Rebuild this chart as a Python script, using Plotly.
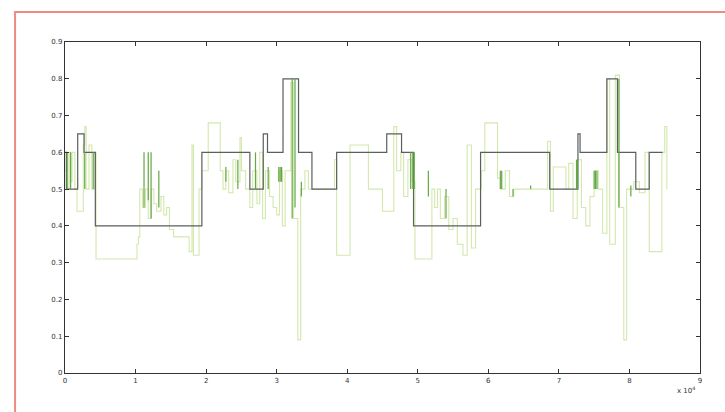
import plotly.graph_objects as go

# Black reference step signal (x in units of 1e4)
black_x = [0, 0.02, 0.18, 0.27, 0.43, 1.94, 2.62, 2.81, 2.87, 3.09, 3.31, 3.50, 3.85,
           4.56, 4.77, 4.94, 5.89, 6.87, 7.27, 7.30, 7.68, 7.83, 8.09, 8.28, 8.47]
black_y = [0.6, 0.5, 0.65, 0.6, 0.4, 0.6, 0.5, 0.65, 0.6, 0.8, 0.6, 0.5, 0.6,
           0.65, 0.6, 0.4, 0.6, 0.5, 0.65, 0.6, 0.8, 0.6, 0.5, 0.6, 0.6]

# Light green noisy step signal
green_x = [0.00, 0.02, 0.04, 0.06, 0.08, 0.10, 0.14, 0.17, 0.26, 0.28, 0.30, 0.34, 0.38, 0.42,
           0.44, 1.02, 1.04, 1.06, 1.10, 1.14, 1.18, 1.22, 1.26, 1.30, 1.36, 1.40, 1.44, 1.48,
           1.54, 1.76, 1.80, 1.82, 1.90, 1.94, 2.03, 2.20, 2.24, 2.28, 2.32, 2.38, 2.42, 2.48,
           2.50, 2.56, 2.62, 2.66, 2.72, 2.76, 2.80, 2.84, 2.90, 2.95, 3.00, 3.04, 3.08, 3.12,
           3.20, 3.24, 3.30, 3.34, 3.40, 3.45, 3.50, 3.82, 3.85, 4.04, 4.30, 4.50, 4.66, 4.70,
           4.76, 4.80, 4.86, 4.92, 4.96, 5.20, 5.24, 5.28, 5.32, 5.38, 5.44, 5.50, 5.56, 5.64,
           5.70, 5.76, 5.82, 5.90, 5.95, 6.13, 6.18, 6.24, 6.30, 6.36, 6.84, 6.88, 6.92, 7.10,
           7.14, 7.20, 7.26, 7.32, 7.38, 7.44, 7.50, 7.56, 7.62, 7.68, 7.72, 7.80, 7.86, 7.92,
           7.96, 8.06, 8.14, 8.22, 8.28, 8.46, 8.50, 8.53]
green_y = [0.55, 0.60, 0.50, 0.60, 0.52, 0.60, 0.50, 0.44, 0.62, 0.67, 0.50, 0.62, 0.50, 0.60,
           0.31, 0.35, 0.37, 0.50, 0.45, 0.50, 0.42, 0.50, 0.46, 0.44, 0.48, 0.43, 0.45, 0.39,
           0.37, 0.33, 0.62, 0.32, 0.50, 0.55, 0.68, 0.55, 0.50, 0.55, 0.49, 0.58, 0.52, 0.64,
           0.55, 0.50, 0.45, 0.55, 0.46, 0.60, 0.42, 0.55, 0.48, 0.45, 0.43, 0.55, 0.40, 0.55,
           0.79, 0.42, 0.09, 0.50, 0.55, 0.50, 0.50, 0.58, 0.32, 0.62, 0.50, 0.44, 0.67, 0.55,
           0.60, 0.48, 0.58, 0.52, 0.31, 0.50, 0.45, 0.50, 0.42, 0.48, 0.39, 0.42, 0.35, 0.32,
           0.62, 0.34, 0.50, 0.55, 0.68, 0.53, 0.50, 0.55, 0.48, 0.50, 0.63, 0.44, 0.56, 0.50,
           0.57, 0.42, 0.58, 0.45, 0.40, 0.48, 0.55, 0.50, 0.38, 0.80, 0.35, 0.81, 0.45, 0.09,
           0.50, 0.52, 0.49, 0.60, 0.33, 0.60, 0.67, 0.50]

# Dark green fast-switching bursts: position, low, high
spike_x = [0.03, 0.08, 0.28, 0.40, 1.12, 1.18, 1.22, 1.33, 2.28, 2.45, 2.70, 2.88,
           3.03, 3.05, 3.07, 3.22, 3.26, 3.35, 4.90, 4.93, 4.95, 5.15, 5.40,
           6.17, 6.19, 6.35, 6.60, 7.25, 7.26, 7.50, 7.52, 7.54, 7.85, 8.02]
spike_lo = [0.50, 0.50, 0.50, 0.50, 0.45, 0.47, 0.42, 0.45, 0.52, 0.50, 0.50, 0.50,
            0.52, 0.52, 0.52, 0.42, 0.45, 0.48, 0.50, 0.50, 0.50, 0.48, 0.42,
            0.50, 0.50, 0.48, 0.50, 0.50, 0.50, 0.50, 0.50, 0.50, 0.45, 0.48]
spike_hi = [0.60, 0.60, 0.60, 0.60, 0.60, 0.60, 0.60, 0.55, 0.56, 0.58, 0.60, 0.56,
            0.56, 0.56, 0.56, 0.80, 0.80, 0.52, 0.60, 0.60, 0.60, 0.55, 0.50,
            0.55, 0.55, 0.50, 0.51, 0.58, 0.58, 0.55, 0.55, 0.55, 0.80, 0.51]

x_ticks = list(range(0, 10))
y_ticks = [0, 0.1, 0.2, 0.3, 0.4, 0.5, 0.6, 0.7, 0.8, 0.9]

sx, sy = [], []
for x, lo, hi in zip(spike_x, spike_lo, spike_hi):
    sx += [x, x, None]
    sy += [lo, hi, None]

fig = go.Figure()
fig.add_trace(go.Scatter(x=green_x, y=green_y, mode="lines", line=dict(shape="hv", color="#d3e8ad", width=1.1),
                         hoverinfo="skip", showlegend=False))
fig.add_trace(go.Scatter(x=black_x, y=black_y, mode="lines", line=dict(shape="hv", color="#5a5f5f", width=1.2),
                         hoverinfo="skip", showlegend=False))
fig.add_trace(go.Scatter(x=sx, y=sy, mode="lines", line=dict(color="#62a844", width=1.2),
                         hoverinfo="skip", showlegend=False))

axis_common = dict(showline=True, linecolor="#333333", linewidth=1.2, mirror="ticks",
                   ticks="inside", ticklen=4, tickcolor="#333333", showgrid=False, zeroline=False,
                   tickfont=dict(family="DejaVu Sans", size=7, color="#333333"))
fig.update_xaxes(range=[0, 9], tickvals=x_ticks, ticktext=[str(v) for v in x_ticks], **axis_common)
fig.update_yaxes(range=[0, 0.9], tickvals=y_ticks, ticktext=[str(v) for v in y_ticks], **axis_common)

fig.update_layout(
    width=725, height=412,
    margin=dict(l=65, r=25, t=42, b=39),
    plot_bgcolor="white", paper_bgcolor="white",
    shapes=[dict(type="rect", xref="paper", yref="paper",
                 x0=-0.0786, x1=1.2, y0=-0.3, y1=1.0906,
                 line=dict(color="#ee8a80", width=2), layer="below")],
    annotations=[dict(text="x 10<sup>4</sup>", xref="paper", yref="paper", x=0.995, y=-0.03,
                      xanchor="right", yanchor="top", showarrow=False,
                      font=dict(family="DejaVu Sans", size=7, color="#333333"))],
)

fig.write_html("out.html")
